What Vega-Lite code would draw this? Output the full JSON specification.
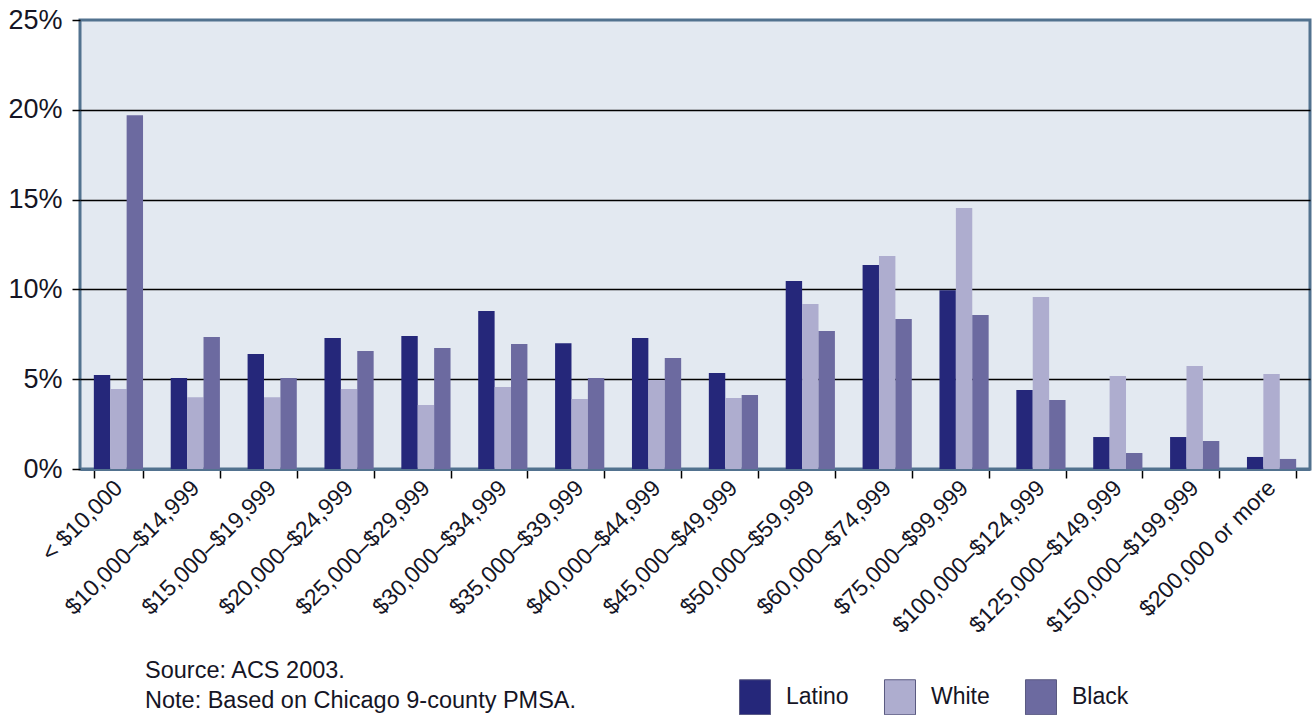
{
  "$schema": "https://vega.github.io/schema/vega-lite/v6.json",
  "width": 1230,
  "height": 449,
  "autosize": "none",
  "padding": {"left": 80, "top": 20, "right": 4, "bottom": 246},
  "background": "white",
  "config": {
    "font": "Liberation Sans",
    "view": {"fill": "#e3e9f1", "stroke": "#52728f", "strokeWidth": 3}
  },
  "title": {
    "text": ["Source: ACS 2003.", "Note: Based on Chicago 9-county PMSA."],
    "orient": "bottom",
    "anchor": "start",
    "frame": "group",
    "dx": 65,
    "offset": -58,
    "fontSize": 23.5,
    "fontWeight": "normal",
    "color": "#151525",
    "lineHeight": 30
  },
  "data": {
    "values": [
      {"bracket": "< $10,000", "group": "Latino", "value": 5.23},
      {"bracket": "< $10,000", "group": "White", "value": 4.45},
      {"bracket": "< $10,000", "group": "Black", "value": 19.7},
      {"bracket": "$10,000–$14,999", "group": "Latino", "value": 5.07},
      {"bracket": "$10,000–$14,999", "group": "White", "value": 4.0},
      {"bracket": "$10,000–$14,999", "group": "Black", "value": 7.35},
      {"bracket": "$15,000–$19,999", "group": "Latino", "value": 6.4},
      {"bracket": "$15,000–$19,999", "group": "White", "value": 4.0},
      {"bracket": "$15,000–$19,999", "group": "Black", "value": 5.07},
      {"bracket": "$20,000–$24,999", "group": "Latino", "value": 7.3},
      {"bracket": "$20,000–$24,999", "group": "White", "value": 4.45},
      {"bracket": "$20,000–$24,999", "group": "Black", "value": 6.57},
      {"bracket": "$25,000–$29,999", "group": "Latino", "value": 7.4},
      {"bracket": "$25,000–$29,999", "group": "White", "value": 3.56},
      {"bracket": "$25,000–$29,999", "group": "Black", "value": 6.74},
      {"bracket": "$30,000–$34,999", "group": "Latino", "value": 8.8},
      {"bracket": "$30,000–$34,999", "group": "White", "value": 4.57},
      {"bracket": "$30,000–$34,999", "group": "Black", "value": 6.96},
      {"bracket": "$35,000–$39,999", "group": "Latino", "value": 7.0},
      {"bracket": "$35,000–$39,999", "group": "White", "value": 3.9},
      {"bracket": "$35,000–$39,999", "group": "Black", "value": 5.07},
      {"bracket": "$40,000–$44,999", "group": "Latino", "value": 7.3},
      {"bracket": "$40,000–$44,999", "group": "White", "value": 4.96},
      {"bracket": "$40,000–$44,999", "group": "Black", "value": 6.18},
      {"bracket": "$45,000–$49,999", "group": "Latino", "value": 5.35},
      {"bracket": "$45,000–$49,999", "group": "White", "value": 3.95},
      {"bracket": "$45,000–$49,999", "group": "Black", "value": 4.12},
      {"bracket": "$50,000–$59,999", "group": "Latino", "value": 10.47},
      {"bracket": "$50,000–$59,999", "group": "White", "value": 9.19},
      {"bracket": "$50,000–$59,999", "group": "Black", "value": 7.68},
      {"bracket": "$60,000–$74,999", "group": "Latino", "value": 11.36},
      {"bracket": "$60,000–$74,999", "group": "White", "value": 11.86},
      {"bracket": "$60,000–$74,999", "group": "Black", "value": 8.35},
      {"bracket": "$75,000–$99,999", "group": "Latino", "value": 9.95},
      {"bracket": "$75,000–$99,999", "group": "White", "value": 14.53},
      {"bracket": "$75,000–$99,999", "group": "Black", "value": 8.57},
      {"bracket": "$100,000–$124,999", "group": "Latino", "value": 4.4},
      {"bracket": "$100,000–$124,999", "group": "White", "value": 9.58},
      {"bracket": "$100,000–$124,999", "group": "Black", "value": 3.84},
      {"bracket": "$125,000–$149,999", "group": "Latino", "value": 1.78},
      {"bracket": "$125,000–$149,999", "group": "White", "value": 5.18},
      {"bracket": "$125,000–$149,999", "group": "Black", "value": 0.89},
      {"bracket": "$150,000–$199,999", "group": "Latino", "value": 1.78},
      {"bracket": "$150,000–$199,999", "group": "White", "value": 5.73},
      {"bracket": "$150,000–$199,999", "group": "Black", "value": 1.56},
      {"bracket": "$200,000 or more", "group": "Latino", "value": 0.67},
      {"bracket": "$200,000 or more", "group": "White", "value": 5.29},
      {"bracket": "$200,000 or more", "group": "Black", "value": 0.56}
    ]
  },
  "mark": {"type": "bar"},
  "encoding": {
    "x": {
      "field": "bracket",
      "type": "nominal",
      "sort": null,
      "scale": {"paddingInner": 0.36, "paddingOuter": 0.18},
      "axis": {
        "title": null,
        "labelAngle": -45,
        "labelAlign": "right",
        "labelBaseline": "middle",
        "labelFontSize": 23,
        "labelColor": "#151525",
        "labelPadding": 6,
        "labelLimit": 0,
        "tickBand": "extent",
        "tickColor": "black",
        "tickSize": 9,
        "tickWidth": 1.5,
        "domainColor": "#52728f",
        "domainWidth": 3
      }
    },
    "y": {
      "field": "value",
      "type": "quantitative",
      "scale": {"domain": [0, 25], "nice": false},
      "axis": {
        "title": null,
        "values": [0, 5, 10, 15, 20, 25],
        "labelExpr": "datum.value + '%'",
        "labelFontSize": 27,
        "labelColor": "#151525",
        "labelPadding": 10,
        "tickColor": "black",
        "tickSize": 8,
        "tickWidth": 1.5,
        "domain": false,
        "grid": true,
        "gridColor": {"condition": {"test": "datum.value == 0 || datum.value == 25", "value": "transparent"}, "value": "black"},
        "gridWidth": 1.5
      }
    },
    "xOffset": {
      "field": "group",
      "type": "nominal",
      "sort": ["Latino", "White", "Black"],
      "scale": {"paddingInner": 0, "paddingOuter": 0}
    },
    "color": {
      "field": "group",
      "type": "nominal",
      "scale": {"domain": ["Latino", "White", "Black"], "range": ["#25277a", "#aeadcf", "#6c6aa0"]},
      "legend": {
        "title": null,
        "orient": "none",
        "legendX": 657,
        "legendY": 659,
        "direction": "horizontal",
        "symbolType": "M-0.886,-1H0.886V1H-0.886Z",
        "symbolSize": 1225,
        "symbolStrokeColor": "#5a5a80",
        "symbolStrokeWidth": 1,
        "symbolOpacity": 1,
        "labelFontSize": 23,
        "labelColor": "#151525",
        "labelOffset": 13,
        "columnPadding": 33
      }
    }
  }
}
